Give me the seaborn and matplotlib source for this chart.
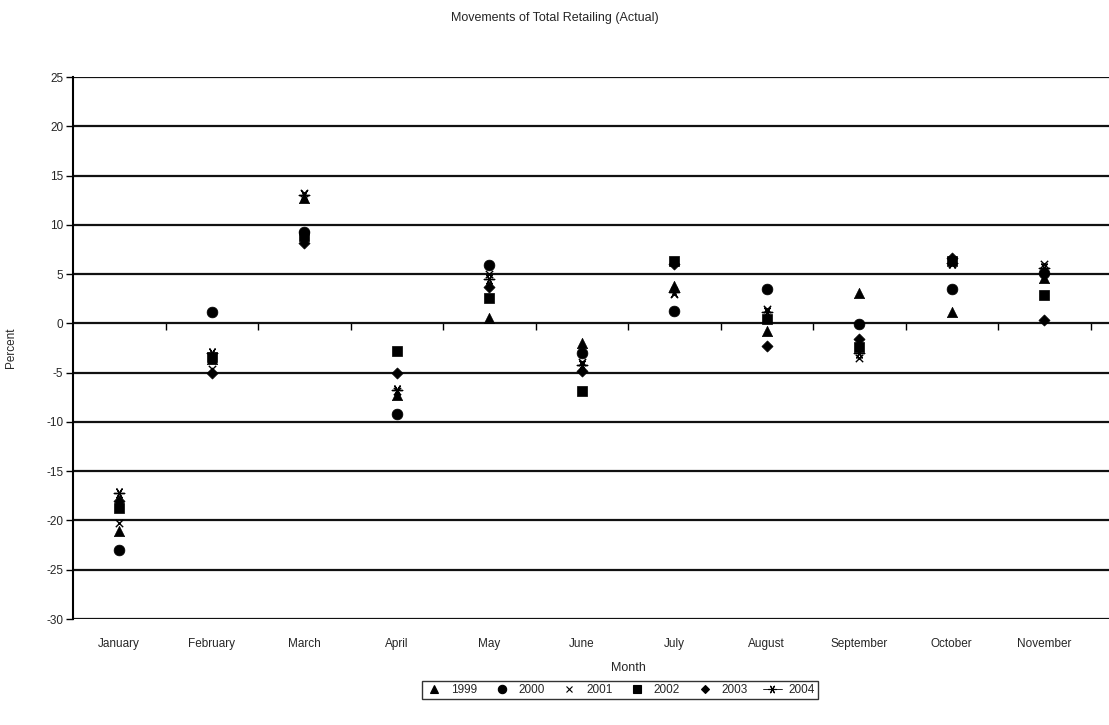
import numpy as np
import pandas as pd
import matplotlib
matplotlib.use("Agg")
import matplotlib.pyplot as plt
from matplotlib.lines import Line2D
import seaborn as sns

months = ["January", "February", "March", "April", "May", "June", "July",
          "August", "September", "October", "November", "December"]
years = ["1999", "2000", "2001", "2002", "2003", "2004"]

# Monthly movement (%) of total retailing, one list per year
y1999 = [-21.1, -3.6, 12.7, -7.3, 0.5, -2.0, 3.8, -0.8, 3.1, 1.2, 4.6, np.nan]
y2000 = [-23.0, 1.2, 9.3, -9.2, 5.9, -3.0, 1.3, 3.5, -0.1, 3.5, 5.1, np.nan]
y2001 = [-20.3, -4.6, 13.2, -6.9, 5.0, -3.9, 3.0, 1.5, -3.5, 6.0, 6.0, np.nan]
y2002 = [-18.7, -3.4, 8.9, -2.8, 2.6, -6.9, 6.3, 0.4, -2.4, 6.3, 2.9, np.nan]
y2003 = [-18.0, -5.0, 8.2, -5.0, 3.7, -4.8, 6.0, -2.3, -1.6, 6.6, 0.3, np.nan]
y2004 = [-17.2, -3.0, 13.0, -6.8, 4.5, -4.2, 3.2, 1.2, -3.0, 6.1, 5.6, np.nan]

series = dict(zip(years, [y1999, y2000, y2001, y2002, y2003, y2004]))

sns.set_style("white")
plt.rcParams["font.family"] = ["Liberation Sans", "DejaVu Sans"]
plt.rcParams["axes.unicode_minus"] = False

markers = {"1999": "^", "2000": "o", "2001": "x", "2002": "s",
           "2003": "D", "2004": (6, 2, 90)}
sizes = {"1999": 55, "2000": 60, "2001": 28, "2002": 45, "2003": 32, "2004": 55}

fig = plt.figure(figsize=(11.09, 7.25), dpi=100)
ax = fig.add_axes([73 / 1109, 106 / 725, 1110 / 1109, 542 / 725])

# horizontal gridlines every 5 %
for v in range(-30, 30, 5):
    ax.axhline(v, color="#111111", lw=1.6, zorder=1)

for yr in years:
    df = pd.DataFrame({"Month": months, "Percent": series[yr]}).dropna()
    df["pos"] = [months.index(m) for m in df["Month"]]
    m = markers[yr]
    filled = m not in ("x",) and not isinstance(m, tuple)
    sns.scatterplot(data=df, x="pos", y="Percent", marker=m, s=sizes[yr],
                    color="black", edgecolor="black" if filled else None,
                    linewidth=0.5 if filled else 1.0, ax=ax, zorder=3,
                    legend=False)

ax.set_xlim(-0.5, 11.5)
ax.set_ylim(-30, 25)
ax.set_yticks(range(-30, 30, 5))
ax.set_xticks(range(len(months)))
ax.set_xticklabels(months, fontsize=8.5)
ax.tick_params(axis="x", length=0, pad=14)
ax.tick_params(axis="y", direction="out", length=5, width=1, color="black",
               labelsize=8.5, pad=2, left=True)
for s in ["top", "right", "bottom"]:
    ax.spines[s].set_visible(False)
ax.spines["left"].set_color("black")
ax.spines["left"].set_linewidth(1.5)

# category-boundary ticks along the zero line
sec = ax.secondary_xaxis(30 / 55)
sec.set_xticks(np.arange(0.5, 11.5, 1.0))
sec.tick_params(direction="out", length=5, width=1, color="black", labelbottom=False,
                labeltop=False, bottom=True, top=False)
sec.spines["bottom"].set_visible(False)
sec.spines["top"].set_visible(False)
sec.xaxis.set_ticks_position("bottom")
sec.set_xticklabels([])

ax.set_xlabel("Month", fontsize=9)
ax.xaxis.set_label_coords((628 - 73) / 1110, (619 - 662) / 542)
ax.set_ylabel("Percent", fontsize=8.5)
ax.yaxis.set_label_coords((17 - 73) / 1110, 0.5)

fig.text(0.5, 1 - 18 / 725, "Movements of Total Retailing (Actual)",
         ha="center", va="center", fontsize=9)

handles = []
for yr in years:
    m = markers[yr]
    ms = {"1999": 6, "2000": 6, "2001": 4.5, "2002": 5.5, "2003": 4.5, "2004": 6}[yr]
    handles.append(Line2D([], [], color="black", marker=m, markersize=ms,
                          linestyle="-" if yr == "2004" else "None",
                          lw=0.6 if yr == "2004" else 0,
                          markeredgewidth=0.8))
leg = fig.legend(handles, years, loc="center", bbox_to_anchor=(620 / 1109, 1 - 690 / 725),
                 ncol=6, frameon=True, fontsize=8.5, handlelength=1.6,
                 handletextpad=0.6, columnspacing=1.3, borderpad=0.25,
                 fancybox=False, edgecolor="black")
leg.get_frame().set_linewidth(1.0)

fig.savefig("out.png", dpi=100)
